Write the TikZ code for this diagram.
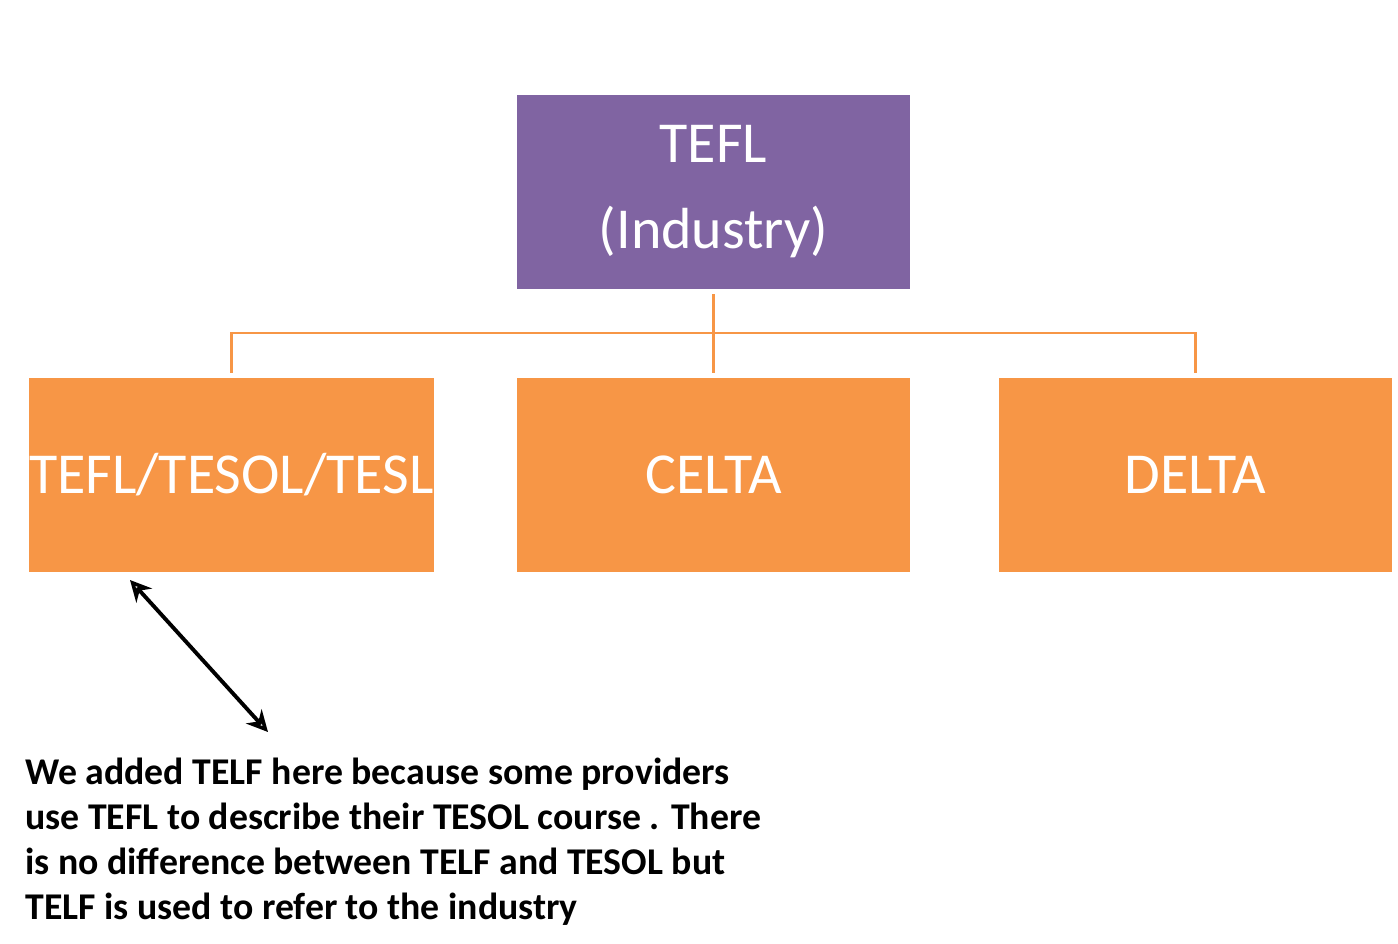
\documentclass[tikz,border=0pt]{standalone}
\usepackage{fontspec}
\setmainfont{Carlito}
\usetikzlibrary{arrows.meta}
\definecolor{purp}{HTML}{8064A2}
\definecolor{orng}{HTML}{F79646}
\begin{document}
\begin{tikzpicture}[x=0.02cm,y=-0.02cm,
  box/.style={minimum width=393*0.02cm,minimum height=194*0.02cm,inner sep=0pt,text=white,font=\fontsize{33}{49}\selectfont,align=center},
  conn/.style={draw=orng,line width=1.7pt}]
\useasboundingbox (0,0) rectangle (1398,943);
\node[box,fill=purp] (top) at (713.5,192) {TEFL\\(Industry)};
\node[box,fill=orng] (a) at (231.5,475) {TEFL/TESOL/TESL};
\node[box,fill=orng] (b) at (713.5,475) {CELTA};
\node[box,fill=orng] (c) at (1195.5,475) {DELTA};
\coordinate (j) at (713.5,333);
\draw[conn] ([yshift=-5*0.02cm]top.south) -- ([yshift=5*0.02cm]b.north);
\draw[conn] ([yshift=5*0.02cm]a.north) |- (j) -| ([yshift=5*0.02cm]c.north);
\coordinate (p) at (130,580);
\coordinate (q) at (268,732);
\draw[line width=2.2pt,{Stealth[length=12pt,width=12pt,open,fill=none]}-{Stealth[length=12pt,width=12pt,open,fill=none]}] (p) -- (q);
\node[anchor=north west,align=left,inner sep=0pt,font=\bfseries\fontsize{21.5}{25.6}\selectfont] (note) at (25,758) {We added TELF here because some providers\\use TEFL to describe their TESOL course . There\\is no difference between TELF and TESOL but\\TELF is used to refer to the industry};
\end{tikzpicture}
\end{document}
